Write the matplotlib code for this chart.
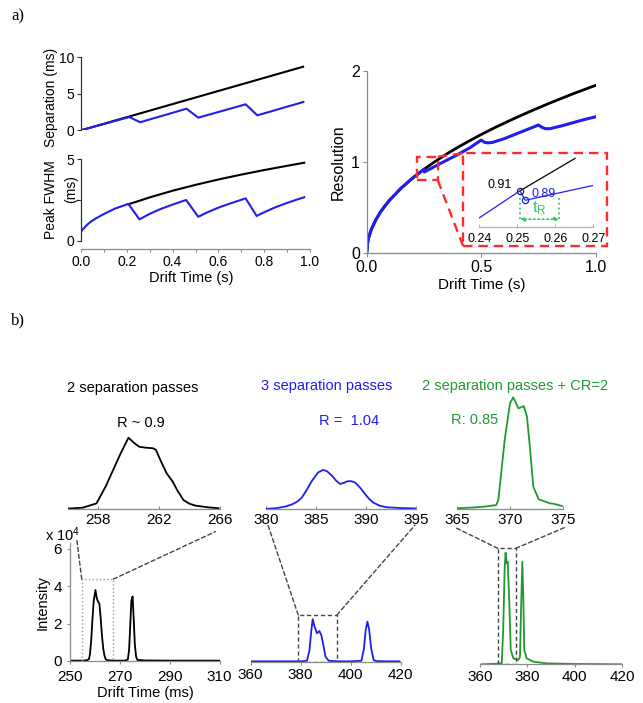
import matplotlib
matplotlib.use('Agg')
import matplotlib.pyplot as plt
from matplotlib.patches import Rectangle, ConnectionPatch

plt.rcParams['font.family'] = ['Liberation Sans', 'DejaVu Sans']

# ---------------- data (a) ----------------
t_sep_black = [0.0, 0.97]
sep_black = [0.0, 8.71]
t_sep_blue = [0.0, 0.211, 0.258, 0.461, 0.512, 0.719, 0.770, 0.971]
sep_blue = [0.0, 1.82, 1.10, 2.96, 1.73, 3.56, 2.05, 3.88]

t_fw_black = [0.207, 0.25, 0.3, 0.4, 0.5, 0.6, 0.7, 0.8, 0.9, 0.975]
fw_black = [2.24, 2.43, 2.66, 3.07, 3.43, 3.76, 4.06, 4.34, 4.60, 4.79]
t_fw_blue = [0.0, 0.01, 0.02, 0.03, 0.047, 0.07, 0.1, 0.15, 0.207, 0.255, 0.3, 0.35,
             0.4, 0.459, 0.512, 0.55, 0.6, 0.65, 0.719, 0.767, 0.8, 0.85, 0.9, 0.95, 0.975]
fw_blue = [0.55, 0.73, 0.88, 1.02, 1.21, 1.41, 1.64, 1.98, 2.26, 1.31, 1.65, 1.96,
           2.22, 2.50, 1.47, 1.73, 2.03, 2.28, 2.60, 1.52, 1.75, 2.06, 2.32, 2.56, 2.67]

t_res_black = [0, 0.005, 0.01, 0.02, 0.04, 0.06, 0.08, 0.1, 0.15, 0.2, 0.25, 0.3, 0.35,
               0.4, 0.45, 0.5, 0.55, 0.6, 0.65, 0.7, 0.75, 0.8, 0.85, 0.9, 0.95, 1.0]
res_black = [0, 0.130, 0.184, 0.260, 0.368, 0.451, 0.520, 0.582, 0.713, 0.823, 0.920, 1.008,
             1.089, 1.164, 1.234, 1.301, 1.365, 1.425, 1.483, 1.539, 1.593, 1.646, 1.696,
             1.746, 1.793, 1.840]
t_res_blue = [0, 0.005, 0.01, 0.02, 0.04, 0.06, 0.08, 0.1, 0.15, 0.2, 0.25, 0.252, 0.27,
              0.3, 0.35, 0.4, 0.45, 0.5, 0.515, 0.53, 0.55, 0.6, 0.65, 0.7, 0.75, 0.765,
              0.78, 0.8, 0.85, 0.9, 0.95, 1.0]
res_blue = [0, 0.130, 0.184, 0.260, 0.368, 0.451, 0.520, 0.582, 0.713, 0.823, 0.920, 0.89,
            0.915, 0.955, 1.02, 1.085, 1.155, 1.24, 1.215, 1.21, 1.215, 1.255, 1.305, 1.355,
            1.405, 1.38, 1.365, 1.365, 1.395, 1.43, 1.465, 1.495]

# inset (zoom of the resolution curves)
t_in_black = [0.2507, 0.2652]
r_in_black = [0.910, 0.958]
t_in_blue = [0.2400, 0.2507, 0.2521, 0.2700]
r_in_blue = [0.870, 0.910, 0.896, 0.918]
in_labels = ['0.91', '0.89']
tR_range = [0.2507, 0.2610]

# ---------------- data (b) ----------------
x_b1 = [250, 255, 256, 257, 257.6, 258, 258.5, 259, 259.5, 260.2, 260.6, 261.0, 261.4,
        261.8, 262.3, 262.8, 263.3, 263.8, 264.3, 265, 268, 272, 273.2, 273.7, 274.2,
        274.6, 275.1, 275.5, 276.0, 276.5, 277, 280, 290, 300, 310]
y_b1 = [0.02, 0.02, 0.03, 0.05, 0.1, 0.35, 1.1, 2.2, 3.2, 3.8, 3.45, 3.25, 3.15, 3.05, 2.3,
        1.4, 0.7, 0.3, 0.1, 0.04, 0.02, 0.02, 0.08, 0.6, 2.0, 3.2, 3.45, 2.4, 0.9, 0.25,
        0.06, 0.03, 0.02, 0.02, 0.02]
x_b1z = [256.0, 257.0, 257.9, 258.5, 259.0, 259.5, 260.0, 260.4, 260.7, 261.1, 261.6,
         261.8, 262.1, 262.5, 262.9, 263.2, 263.6, 264.0, 264.4, 265.2, 265.9]
y_b1z = [0.02, 0.07, 0.3, 1.2, 2.1, 3.0, 3.81, 3.51, 3.33, 3.28, 3.25, 3.16, 2.6, 1.91,
         1.46, 1.0, 0.48, 0.28, 0.18, 0.09, 0.04]

x_b2 = [360, 370, 380, 382.5, 383.5, 384.2, 384.8, 385.5, 386.5, 387.5, 388.3, 389.2,
        389.9, 391.2, 395, 400, 404.3, 405.3, 406.0, 406.7, 407.4, 408.2, 409.2, 410.5,
        415, 419.5]
y_b2 = [0.02, 0.02, 0.02, 0.05, 0.6, 1.6, 2.27, 1.9, 1.52, 1.64, 1.4, 0.8, 0.27, 0.05,
        0.02, 0.02, 0.05, 0.7, 1.7, 2.14, 1.7, 0.7, 0.08, 0.03, 0.02, 0.02]
x_b2z = [380.0, 381.0, 382.0, 382.7, 383.2, 383.6, 384.1, 384.6, 385.2, 385.7, 386.1,
         386.6, 387.0, 387.4, 387.8, 388.1, 388.5, 388.9, 389.4, 389.9, 390.3, 390.7,
         391.4, 392.1, 393.5, 394.9]
y_b2z = [0.01, 0.04, 0.14, 0.27, 0.42, 0.62, 1.05, 1.51, 1.95, 2.09, 2.02, 1.78, 1.52,
         1.34, 1.40, 1.48, 1.49, 1.42, 1.15, 0.80, 0.55, 0.35, 0.17, 0.09, 0.05, 0.03]

x_b3 = [360.7, 365, 369.2, 369.8, 370.4, 370.8, 371.3, 371.7, 372.3, 373.0, 374.1, 376.2,
        376.9, 377.3, 377.9, 378.3, 378.7, 379.7, 382.5, 388.1, 400, 420.5]
y_b3 = [0.0, 0.02, 0.05, 1.83, 5.04, 5.97, 5.4, 5.49, 3.6, 0.76, 0.32, 0.23, 0.4, 2.73,
        5.49, 3.6, 0.76, 0.32, 0.14, 0.05, 0.02, 0.0]
x_b3z = [365.1, 366.5, 367.5, 368.7, 368.9, 369.5, 370.0, 370.3, 370.5, 370.8, 371.3,
         371.6, 371.9, 372.2, 372.7, 373.8, 374.2, 374.9]
y_b3z = [0.04, 0.08, 0.12, 0.21, 0.48, 3.7, 5.65, 5.97, 5.74, 5.38, 5.5, 4.94, 3.16, 1.19,
         0.52, 0.30, 0.27, 0.16]

titles_b = ['2 separation passes', '3 separation passes', '2 separation passes + CR=2']
res_b = ['R ~ 0.9', 'R =  1.04', 'R: 0.85']

# ---------------- styling ----------------
BLUE = '#1f1fef'
GREEN = '#1e9a35'
LGREEN = '#33cc66'
RED = '#ff2a2a'
GRAY = '#8c8c8c'
DASH = '#444444'

W, H = 643, 703
fig = plt.figure(figsize=(W / 100, H / 100), dpi=100)


def add_ax(x0, x1, ytop, ybot):
    return fig.add_axes([x0 / W, 1 - ybot / H, (x1 - x0) / W, (ybot - ytop) / H])


def ftext(x, y, s, **kw):
    kw.setdefault('ha', 'center')
    kw.setdefault('va', 'center')
    fig.text(x / W, 1 - y / H, s, **kw)


def only_spines(ax, keep, color=GRAY):
    for k, sp in ax.spines.items():
        if k in keep:
            sp.set_color(color)
            sp.set_linewidth(0.9)
        else:
            sp.set_visible(False)
    ax.set_facecolor('none')


# ---- a) separation ----
ax1 = add_ax(81, 310, 57.3, 130.3)
ax1.plot(t_sep_black, sep_black, color='black', lw=1.5)
ax1.plot(t_sep_blue, sep_blue, color=BLUE, lw=1.5)
ax1.set_xlim(0, 1)
ax1.set_ylim(0, 10)
only_spines(ax1, ['left'], color='#333333')
ax1.set_xticks([])
ax1.set_yticks([0, 5, 10])
ax1.tick_params(axis='y', length=3, width=0.8, pad=2, labelsize=10, color='#333333')

# ---- a) FWHM ----
ax2 = add_ax(81, 310, 159.3, 240.7)
ax2.plot(t_fw_black, fw_black, color='black', lw=1.5)
ax2.plot(t_fw_blue, fw_blue, color=BLUE, lw=1.5)
ax2.set_xlim(0, 1)
ax2.set_ylim(0, 5)
only_spines(ax2, ['left', 'bottom'])
ax2.spines['left'].set_color('#333333')
ax2.spines['bottom'].set_position(('outward', 6))
ax2.set_yticks([0, 2.5, 5])
ax2.set_yticklabels(['0', '', '5'])
ax2.set_xticks([0, 0.2, 0.4, 0.6, 0.8, 1.0])
ax2.set_xticklabels(['0.0', '0.2', '0.4', '0.6', '0.8', '1.0'])
ax2.set_xticks([0.1, 0.3, 0.5, 0.7, 0.9], minor=True)
ax2.tick_params(axis='y', length=3, width=0.8, pad=2, labelsize=10, color='#333333')
ax2.tick_params(axis='x', which='both', length=2.5, width=0.8, pad=2, labelsize=10, color=GRAY)

ftext(51, 97, 'Separation (ms)', rotation=90, fontsize=10)
ftext(51, 200, 'Peak FWHM', rotation=90, fontsize=10)
ftext(71, 189, '(ms)', rotation=90, fontsize=10)
ftext(191.7, 278, 'Drift Time (s)', fontsize=10.5)

# ---- a) resolution ----
ax3 = add_ax(366.7, 595.7, 70.7, 253.3)
ax3.plot(t_res_black, res_black, color='black', lw=2)
ax3.plot(t_res_blue, res_blue, color=BLUE, lw=2.2)
ax3.set_xlim(0, 1)
ax3.set_ylim(0, 2)
only_spines(ax3, ['left', 'bottom'])
ax3.set_xticks([0, 0.5, 1.0])
ax3.set_xticklabels(['0.0', '0.5', '1.0'])
ax3.set_yticks([0, 1, 2])
ax3.tick_params(length=3, width=0.8, pad=2, labelsize=11.5, color=GRAY)
ftext(338.3, 162, 'Resolution', rotation=90, fontsize=11.5)
ftext(481.7, 285, 'Drift Time (s)', fontsize=11)

# zoom boxes on the resolution axes
small_box = [0.218, 0.310, 0.803, 1.058]
big_box = [0.4205, 1.049, 0.083, 1.095]
box_kw = dict(fill=False, ec=RED, ls=(0, (4, 2.5)), lw=1.7, clip_on=False, zorder=5)
ax3.add_patch(Rectangle((small_box[0], small_box[2]), small_box[1] - small_box[0],
                        small_box[3] - small_box[2], **box_kw))
ax3.add_patch(Rectangle((big_box[0], big_box[2]), big_box[1] - big_box[0],
                        big_box[3] - big_box[2], **box_kw))
ax3.plot([small_box[1], big_box[0]], [small_box[3], big_box[3]], color=RED,
         ls=(0, (4, 2.5)), lw=1.7, clip_on=False, zorder=5)
ax3.plot([small_box[1], big_box[0]], [small_box[2], big_box[2]], color=RED,
         ls=(0, (4, 2.5)), lw=1.7, clip_on=False, zorder=5)

# inset
axi = add_ax(479.3, 593.3, 155, 227.3)
axi.plot(t_in_black, r_in_black, color='black', lw=0.9)
axi.plot(t_in_blue, r_in_blue, color=BLUE, lw=0.9)
axi.plot([t_in_black[0]], [r_in_black[0]], 'o', mfc='none', mec='#222255', ms=4.5, mew=0.9)
axi.plot([t_in_blue[2]], [r_in_blue[2]], 'o', mfc='none', mec=BLUE, ms=4.5, mew=0.9)
axi.set_xlim(0.24, 0.27)
axi.set_ylim(0.856, 0.963)
only_spines(axi, ['bottom'], color='#b0b0b0')
axi.set_yticks([])
axi.set_xticks([0.24, 0.25, 0.26, 0.27])
axi.set_xticklabels(['0.24', '0.25', '0.26', '0.27'])
axi.tick_params(axis='x', direction='in', length=2.5, width=0.7, pad=4, labelsize=9,
                color='#b0b0b0')
axi.text(0.2454, 0.919, in_labels[0], color='black', fontsize=9, ha='center', va='center')
axi.text(0.2570, 0.906, in_labels[1], color=BLUE, fontsize=9, ha='center', va='center')
for tv in tR_range:
    axi.plot([tv, tv], [0.868, 0.901], color=LGREEN, ls=':', lw=1.3)
axi.annotate('', xy=(tR_range[0], 0.868), xytext=(tR_range[1], 0.868),
             arrowprops=dict(arrowstyle='<|-|>', color=LGREEN, lw=1.2, ls=':',
                             mutation_scale=6, shrinkA=0, shrinkB=0))
axi.text(0.2558, 0.884, r'$\mathregular{t_R}$', color=LGREEN, fontsize=12,
         ha='center', va='center')

# ---------------- b) ----------------
YPX = 18.7  # pixels per 1e4 counts

# black
axb1 = add_ax(70, 219.6, 661 - 6.3 * YPX, 661)
axb1.plot(x_b1, y_b1, color='black', lw=1.3)
axb1.set_xlim(250, 310)
axb1.set_ylim(0, 6.3)
only_spines(axb1, ['left', 'bottom'])
axb1.set_xticks([250, 270, 290, 310])
axb1.set_yticks([0, 2, 4, 6])
axb1.tick_params(axis='y', length=2.5, width=0.8, pad=3.5, labelsize=11, color=GRAY)
axb1.tick_params(axis='x', length=2, width=0.8, pad=4.3, labelsize=11, color=GRAY)

axb1z = add_ax(67.5, 220, 509 - 4.2 * YPX, 509)
axb1z.plot(x_b1z, y_b1z, color='black', lw=1.3)
axb1z.set_xlim(256, 266)
axb1z.set_ylim(0, 4.2)
only_spines(axb1z, ['bottom'])
axb1z.set_yticks([])
axb1z.set_xticks([258, 262, 266])
axb1z.tick_params(axis='x', direction='in', length=2.5, width=0.8, pad=3, labelsize=11,
                  color=GRAY)

# blue
axb2 = add_ax(250.7, 400.7, 661.7 - 6.3 * YPX, 661.7)
axb2.plot(x_b2, y_b2, color=BLUE, lw=1.3)
axb2.set_xlim(360, 420)
axb2.set_ylim(0, 6.3)
only_spines(axb2, ['bottom'])
axb2.set_yticks([])
axb2.set_xticks([360, 380, 400, 420])
axb2.tick_params(axis='x', length=2, width=0.8, pad=2.5, labelsize=11, color=GRAY)

axb2z = add_ax(266, 416, 509 - 4.2 * YPX, 509)
axb2z.plot(x_b2z, y_b2z, color=BLUE, lw=1.3)
axb2z.set_xlim(380, 395)
axb2z.set_ylim(0, 4.2)
only_spines(axb2z, ['bottom'])
axb2z.set_yticks([])
axb2z.set_xticks([380, 385, 390, 395])
axb2z.tick_params(axis='x', direction='in', length=2.5, width=0.8, pad=3, labelsize=11,
                  color=GRAY)

# green
axb3 = add_ax(480, 622, 664.3 - 6.5 * YPX, 664.3)
axb3.plot(x_b3, y_b3, color=GREEN, lw=1.3)
axb3.set_xlim(360, 420)
axb3.set_ylim(0, 6.5)
only_spines(axb3, ['bottom'])
axb3.set_yticks([])
axb3.set_xticks([360, 380, 400, 420])
axb3.tick_params(axis='x', length=2, width=0.8, pad=2, labelsize=11, color=GRAY)

axb3z = add_ax(457, 563, 509 - 6.5 * YPX, 509)
axb3z.plot(x_b3z, y_b3z, color=GREEN, lw=1.3)
axb3z.set_xlim(365, 375)
axb3z.set_ylim(0, 6.5)
only_spines(axb3z, ['bottom'])
axb3z.set_yticks([])
axb3z.set_xticks([365, 370, 375])
axb3z.tick_params(axis='x', direction='in', length=2.5, width=0.8, pad=3, labelsize=11,
                  color=GRAY)

# zoom boxes + connecting lines
box_b1 = [254.7, 267.4, 4.38]
box_b2 = [379.0, 394.5, 2.5]
box_b3 = [367.5, 375.1, 6.2]
axb1.plot([box_b1[0], box_b1[0], box_b1[1], box_b1[1]], [0, box_b1[2], box_b1[2], 0],
          color='#9a9a9a', ls=':', lw=1.0)
axb2.plot([box_b2[0], box_b2[0], box_b2[1], box_b2[1], box_b2[0]],
          [0, box_b2[2], box_b2[2], 0, 0], color=DASH, ls=(0, (3, 2)), lw=1.0)
axb3.plot([box_b3[0], box_b3[0], box_b3[1], box_b3[1], box_b3[0]],
          [0, box_b3[2], box_b3[2], 0, 0], color=DASH, ls=(0, (3, 2)), lw=1.0)


def connect(axA, xyA, axB, xyB):
    cp = ConnectionPatch(xyA=xyA, coordsA=axA.transData, xyB=xyB, coordsB=axB.transData,
                         color=DASH, ls=(0, (3, 2)), lw=1.0)
    fig.add_artist(cp)


connect(axb1, (box_b1[0], box_b1[2]), axb1z, (256.6, -1.57))
connect(axb1, (box_b1[1], box_b1[2]), axb1z, (265.7, -1.21))
connect(axb2, (box_b2[0], box_b2[2]), axb2z, (380.2, -0.86))
connect(axb2, (box_b2[1], box_b2[2]), axb2z, (394.9, -0.86))
connect(axb3, (box_b3[0], box_b3[2]), axb3z, (364.8, -0.98))
connect(axb3, (box_b3[1], box_b3[2]), axb3z, (375.2, -0.98))

# texts of b)
ftext(133, 388, titles_b[0], color='black', fontsize=10.5)
ftext(140.7, 423, res_b[0], color='black', fontsize=10.5)
ftext(326.7, 386, titles_b[1], color=BLUE, fontsize=10.5)
ftext(349, 421, res_b[1], color=BLUE, fontsize=10.5)
ftext(515.5, 386, titles_b[2], color=GREEN, fontsize=10.5)
ftext(475, 420, res_b[2], color=GREEN, fontsize=10.5)

ftext(43, 603, 'Intensity', rotation=90, fontsize=10.5)
ftext(145, 693, 'Drift Time (ms)', fontsize=10.5)
ftext(45, 535, r'x 10$\mathregular{^4}$', ha='left', fontsize=10.5)

# panel labels
ftext(18, 16, 'a)', family='Liberation Serif', fontsize=12)
ftext(18, 320, 'b)', family='Liberation Serif', fontsize=12)

fig.savefig('out.png', dpi=100)
